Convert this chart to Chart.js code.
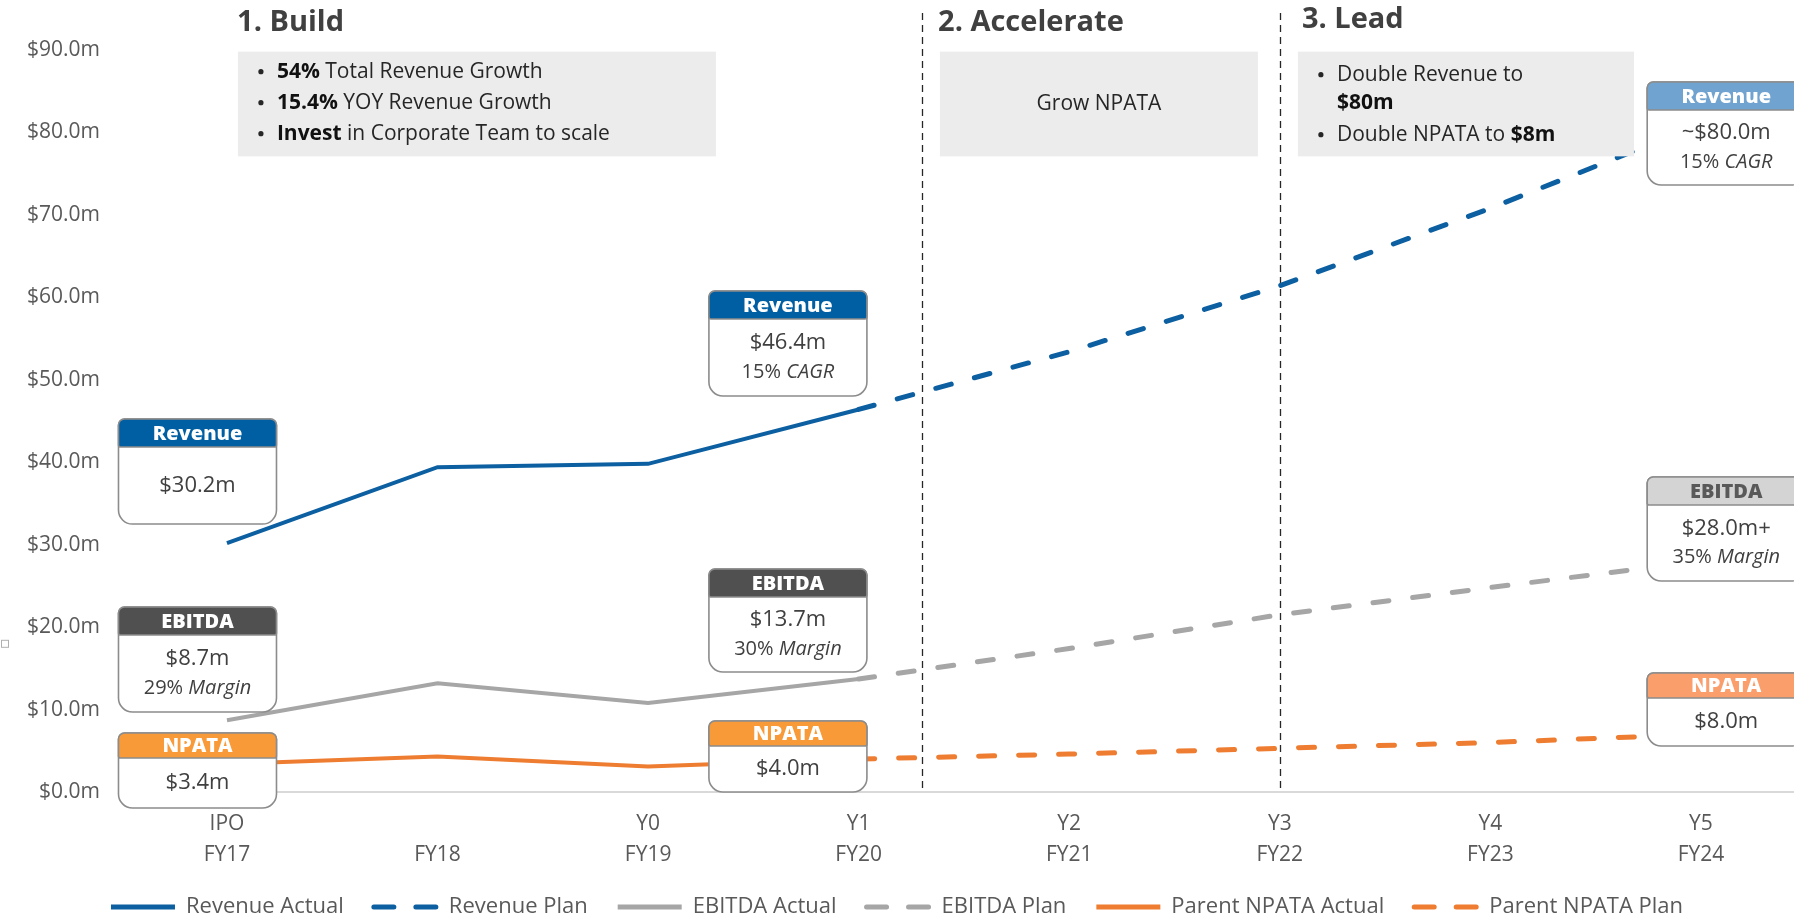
<!DOCTYPE html>
<html>
<head>
<meta charset="utf-8">
<title>Revenue, EBITDA and NPATA plan</title>
<script src="https://cdn.jsdelivr.net/npm/chart.js@4.4.0/dist/chart.umd.min.js"></script>
<style>
  html, body { margin: 0; padding: 0; background: #fff; }
  #wrap { position: relative; width: 1794px; height: 921px; }
</style>
</head>
<body>
<div id="wrap"><canvas id="chart"></canvas></div>
<script>
// x categories, two lines per tick
const phaseLabels = ['IPO', '', 'Y0', 'Y1', 'Y2', 'Y3', 'Y4', 'Y5'];
const fyLabels = ['FY17', 'FY18', 'FY19', 'FY20', 'FY21', 'FY22', 'FY23', 'FY24'];

// series, $m (null = no point)
const revenueActual = [30.2, 39.4, 39.8, 46.4, null, null, null, null];
const revenuePlan   = [null, null, null, 46.4, 53.4, 61.4, 70.8, 81.0];
const ebitdaActual  = [8.7, 13.2, 10.8, 13.7, null, null, null, null];
const ebitdaPlan    = [null, null, null, 13.7, 17.4, 21.5, 24.8, 28.0];
const npataActual   = [3.4, 4.3, 3.1, 4.0, null, null, null, null];
const npataPlan     = [null, null, null, 4.0, 4.6, 5.3, 6.0, 7.0];

// y axis
const yMin = 0, yMax = 90, yStep = 10;

// phase separators (in category units) and phase headings
const phaseBreaks = [3.3, 5];
const phaseTitles = ['1. Build', '2. Accelerate', '3. Lead'];

// text blocks under the headings
const phaseNotes = [
  { bullets: true, lines: [
    [['54%', 'b'], [' Total Revenue Growth', 'n']],
    [['15.4%', 'b'], [' YOY Revenue Growth', 'n']],
    [['Invest', 'b'], [' in Corporate Team to scale', 'n']]
  ]},
  { bullets: false, lines: [[['Grow NPATA', 'n']]] },
  { bullets: true, lines: [
    [['Double Revenue to', 'n']],
    [['$80m', 'b']],
    [['Double NPATA to ', 'n'], ['$8m', 'b']]
  ], noBullet: [1] }
];

// value callouts
const callouts = [
  { x: -0.14, top: 45.25, bottom: 32.5, head: 'Revenue', fill: '#005ea2', ink: '#fff', lines: [[['$30.2m', 'n']]] },
  { x: -0.14, top: 22.44, bottom: 9.7, head: 'EBITDA', fill: '#505050', ink: '#fff', lines: [[['$8.7m', 'n']], [['29% ', 's'], ['Margin', 'i']]] },
  { x: -0.14, top: 7.16, bottom: -1.94, head: 'NPATA', fill: '#f89a38', ink: '#fff', lines: [[['$3.4m', 'n']]] },
  { x: 2.664, top: 60.77, bottom: 48.03, head: 'Revenue', fill: '#005ea2', ink: '#fff', lines: [[['$46.4m', 'n']], [['15% ', 's'], ['CAGR', 'i']]] },
  { x: 2.664, top: 27.05, bottom: 14.56, head: 'EBITDA', fill: '#505050', ink: '#fff', lines: [[['$13.7m', 'n']], [['30% ', 's'], ['Margin', 'i']]] },
  { x: 2.664, top: 8.61, bottom: 0, head: 'NPATA', fill: '#f89a38', ink: '#fff', lines: [[['$4.0m', 'n']]] },
  { x: 7.12, top: 86.12, bottom: 73.63, head: 'Revenue', fill: '#70a3d0', ink: '#fff', lines: [[['~$80.0m', 'n']], [['15% ', 's'], ['CAGR', 'i']]] },
  { x: 7.12, top: 38.21, bottom: 25.59, head: 'EBITDA', fill: '#d4d4d4', ink: '#595959', lines: [[['$28.0m+', 'n']], [['35% ', 's'], ['Margin', 'i']]] },
  { x: 7.12, top: 14.43, bottom: 5.58, head: 'NPATA', fill: '#fa9e6b', ink: '#fff', lines: [[['$8.0m', 'n']]] }
];

const FONT = '"Open Sans", "Noto Sans", sans-serif';
const BLUE = '#0c5fa0', GREY = '#a6a6a6', ORANGE = '#ee7d31';

function fontFor(style, size) {
  if (style === 'b') return '700 ' + size + 'px ' + FONT;
  if (style === 'i') return 'italic 400 ' + (size - 2) + 'px ' + FONT;
  if (style === 's') return '400 ' + (size - 2) + 'px ' + FONT;
  return '400 ' + size + 'px ' + FONT;
}

// draw a line made of styled pieces; align 'left' or 'center'
function richText(ctx, parts, x, y, size, align, color) {
  let total = 0;
  parts.forEach(p => { ctx.font = fontFor(p[1], size); total += ctx.measureText(p[0]).width; });
  let cx = align === 'center' ? x - total / 2 : x;
  ctx.textAlign = 'left';
  ctx.textBaseline = 'middle';
  parts.forEach(p => {
    ctx.font = fontFor(p[1], size);
    ctx.fillStyle = p[1] === 'b' ? '#111' : color;
    ctx.fillText(p[0], cx, y);
    cx += ctx.measureText(p[0]).width;
  });
}

const LEGEND_PAD = 30, LEGEND_FONT = 22;

const overlay = {
  id: 'overlay',
  beforeLayout(chart) {
    // legend keeps only a little room under its row, like the slide
    const lg = chart.legend;
    if (lg && !lg._trimmed) {
      const fit = lg.fit.bind(lg);
      lg.fit = function () { fit(); this.height = LEGEND_PAD + LEGEND_FONT / 2 + 14; };
      lg._trimmed = true;
    }
  },
  beforeDatasetsDraw(chart) {
    const { ctx, scales: { x, y } } = chart;
    ctx.save();
    ctx.strokeStyle = '#262626';
    ctx.lineWidth = 1.3;
    ctx.setLineDash([7, 5]);
    phaseBreaks.forEach(b => {
      const px = Math.round(x.getPixelForValue(b)) + 0.5;
      ctx.beginPath();
      ctx.moveTo(px, y.getPixelForValue(94.5));
      ctx.lineTo(px, y.getPixelForValue(0));
      ctx.stroke();
    });
    ctx.restore();
  },
  afterDatasetsDraw(chart) {
    const { ctx, scales: { x, y } } = chart;
    ctx.save();

    // phase headings + grey note boxes
    const headX = [0.048, 3.377, 5.105];
    const boxes = [[0.052, 2.322], [3.386, 4.896], [5.086, 6.682]];
    phaseTitles.forEach((t, i) => {
      ctx.font = '700 29px ' + FONT;
      ctx.fillStyle = '#404040';
      ctx.textAlign = 'left';
      ctx.textBaseline = 'middle';
      ctx.fillText(t, x.getPixelForValue(headX[i]), i === 2 ? 20 : 23);

      const l = x.getPixelForValue(boxes[i][0]), r = x.getPixelForValue(boxes[i][1]);
      const top = y.getPixelForValue(89.8), bot = y.getPixelForValue(77.1);
      ctx.fillStyle = '#ececec';
      ctx.fillRect(l, top, r - l, bot - top);

      const note = phaseNotes[i];
      if (!note.bullets) {
        richText(ctx, note.lines[0], (l + r) / 2, (top + bot) / 2, 21, 'center', '#262626');
      } else {
        const offs = i === 0 ? [20, 51, 82] : [23, 51, 83];
        note.lines.forEach((ln, k) => {
          const ly = top + offs[k];
          if (!(note.noBullet || []).includes(k)) {
            ctx.fillStyle = '#262626';
            ctx.beginPath();
            ctx.arc(l + 23, ly, 2.6, 0, Math.PI * 2);
            ctx.fill();
          }
          richText(ctx, ln, l + 39, ly, 21, 'left', '#262626');
        });
      }
    });

    // callouts
    callouts.forEach(c => {
      const w = 158;
      const cx = x.getPixelForValue(c.x);
      const l = cx - w / 2;
      const top = y.getPixelForValue(c.top), bot = y.getPixelForValue(c.bottom);
      const hh = c.head === 'NPATA' ? 25 : 28;
      ctx.lineWidth = 1.6;
      ctx.strokeStyle = '#8c8c8c';
      ctx.fillStyle = '#fff';
      ctx.beginPath();
      ctx.roundRect(l, top, w, bot - top, [6, 6, 14, 14]);
      ctx.fill();
      ctx.stroke();
      ctx.fillStyle = c.fill;
      ctx.beginPath();
      ctx.roundRect(l, top, w, hh, [6, 6, 2, 2]);
      ctx.fill();
      ctx.stroke();

      ctx.font = '800 20px ' + FONT;
      ctx.fillStyle = c.ink;
      ctx.textAlign = 'center';
      ctx.textBaseline = 'middle';
      ctx.fillText(c.head, cx, top + hh / 2 + 1);

      const mid = (top + hh + bot) / 2;
      if (c.lines.length === 1) {
        richText(ctx, c.lines[0], cx, mid, 22, 'center', '#404040');
      } else {
        richText(ctx, c.lines[0], cx, mid - 14.5, 22, 'center', '#404040');
        richText(ctx, c.lines[1], cx, mid + 14.5, 22, 'center', '#404040');
      }
    });

    // stray selection handle at the left edge of the slide
    ctx.strokeStyle = '#b0b0b0';
    ctx.lineWidth = 1;
    ctx.strokeRect(1.5, y.getPixelForValue(18.4), 7, 7);

    ctx.restore();
  }
};

function series(label, data, color, dashed) {
  return {
    label: label,
    data: data.map((v, i) => ({ x: i, y: v })),
    borderColor: color,
    backgroundColor: color,
    borderWidth: dashed ? 5 : 4,
    borderDash: dashed ? [16, 24] : [],
    borderCapStyle: dashed ? 'round' : 'butt',
    pointRadius: 0,
    pointHoverRadius: 0,
    fill: false,
    tension: 0,
    spanGaps: false
  };
}

new Chart(document.getElementById('chart'), {
  type: 'line',
  data: {
    datasets: [
      series('Revenue Actual', revenueActual, BLUE, false),
      series('Revenue Plan', revenuePlan, BLUE, true),
      series('EBITDA Actual', ebitdaActual, GREY, false),
      series('EBITDA Plan', ebitdaPlan, GREY, true),
      series('Parent NPATA Actual', npataActual, ORANGE, false),
      series('Parent NPATA Plan', npataPlan, ORANGE, true)
    ]
  },
  options: {
    responsive: true,
    maintainAspectRatio: false,
    animation: false,
    layout: { padding: { top: 50, right: 0, bottom: 0, left: 0 } },
    plugins: {
      tooltip: { enabled: false },
      legend: {
        position: 'bottom',
        labels: {
          usePointStyle: true,
          pointStyle: 'line',
          pointStyleWidth: 64,
          padding: LEGEND_PAD,
          color: '#595959',
          font: { family: FONT, size: LEGEND_FONT },
          generateLabels: chart => Chart.defaults.plugins.legend.labels.generateLabels(chart).map(item => {
            const ds = chart.data.datasets[item.datasetIndex];
            item.strokeStyle = ds.borderColor;
            item.lineWidth = 5;
            item.lineDash = ds.borderDash.length ? [20, 22] : [];
            item.lineCap = ds.borderDash.length ? 'round' : 'butt';
            return item;
          })
        }
      }
    },
    scales: {
      x: {
        type: 'linear',
        min: -0.508,
        max: 7.442,
        afterBuildTicks: s => { s.ticks = fyLabels.map((_, i) => ({ value: i })); },
        afterFit: s => { s.height = 921 - 792 - (LEGEND_PAD + LEGEND_FONT / 2 + 14); },
        grid: { display: false, drawTicks: false },
        border: { display: true, color: '#d9d9d9', width: 2 },
        ticks: {
          padding: 16,
          color: '#595959',
          font: { family: FONT, size: 21, lineHeight: 1.48 },
          maxRotation: 0,
          autoSkip: false,
          callback: v => [phaseLabels[v], fyLabels[v]]
        }
      },
      y: {
        min: yMin,
        max: yMax,
        afterFit: s => { s.width = 120; },
        grid: { display: false, drawTicks: false },
        border: { display: false },
        ticks: {
          stepSize: yStep,
          padding: 20,
          color: '#595959',
          font: { family: FONT, size: 21 },
          callback: v => '$' + v.toFixed(1) + 'm'
        }
      }
    }
  },
  plugins: [overlay]
});
</script>
</body>
</html>
